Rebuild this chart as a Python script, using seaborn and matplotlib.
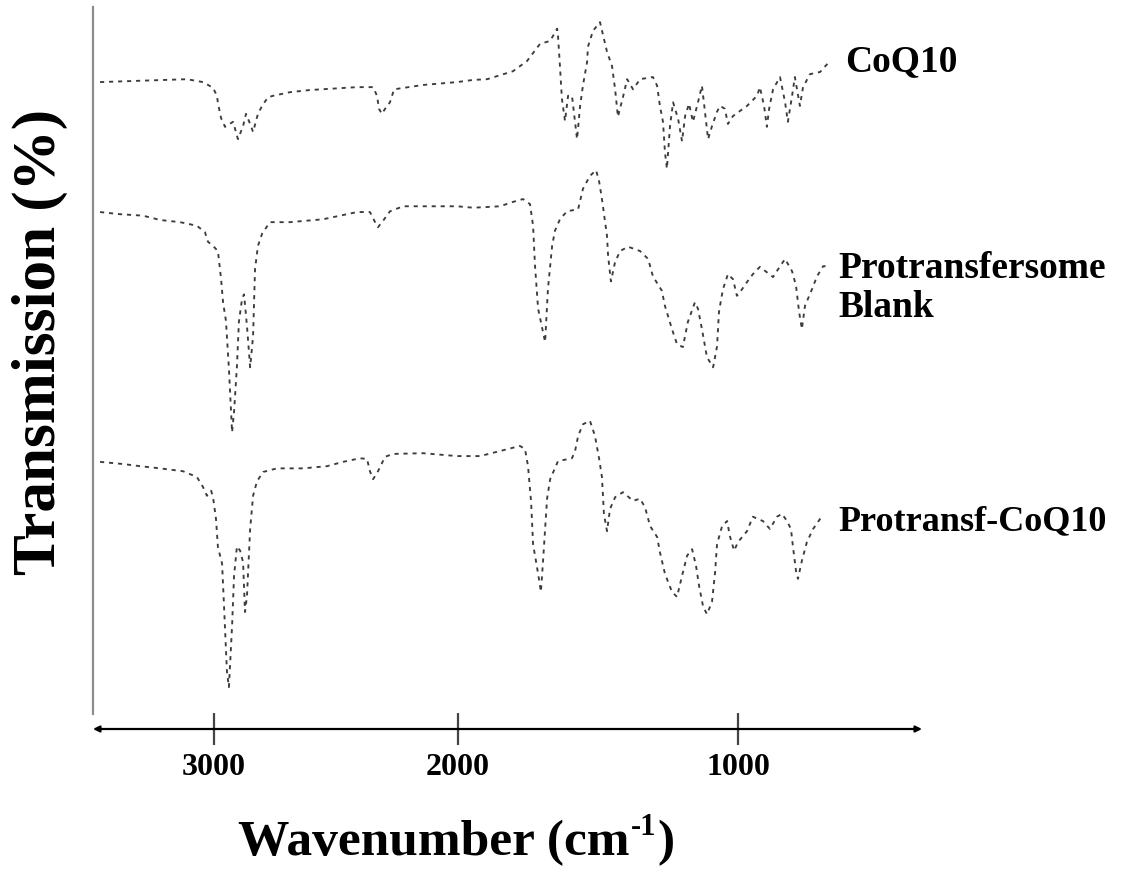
import numpy as np
import pandas as pd
import matplotlib
matplotlib.use("Agg")
import matplotlib.pyplot as plt
import seaborn as sns

# ---------------- data (wavenumber cm-1, transmission a.u., stacked) ----------------
coq10_wn = [3467, 3111, 3045, 3004, 2988, 2984, 2971, 2955, 2922, 2902, 2881, 2869, 2852, 2840,
            2820, 2803, 2779, 2758, 2689, 2607, 2414, 2348, 2332, 2324, 2312, 2299, 2279, 2262,
            2144, 2004, 1946, 1896, 1804, 1754, 1707, 1671, 1646, 1643, 1636, 1629, 1618, 1607,
            1593, 1575, 1564, 1554, 1539, 1536, 1518, 1493, 1479, 1468, 1450, 1439, 1429, 1411,
            1396, 1375, 1350, 1304, 1289, 1279, 1268, 1261, 1254, 1243, 1232, 1214, 1200, 1189,
            1175, 1161, 1143, 1129, 1122, 1107, 1093, 1075, 1064, 1047, 1036, 1018, 968, 932,
            922, 907, 897, 889, 875, 850, 832, 822, 807, 797, 779, 768, 743, 707, 672]
coq10_t = [89.6, 90.0, 89.6, 88.8, 87.7, 86.7, 84.6, 83.4, 84.1, 81.7, 83.5, 85.2, 83.8, 82.7,
           85.2, 86.3, 87.5, 87.7, 88.2, 88.5, 88.9, 88.9, 87.7, 85.9, 85.2, 85.9, 86.8, 88.6,
           89.2, 89.6, 89.9, 90.0, 91.1, 92.5, 94.9, 95.3, 97.0, 96.0, 91.8, 87.3, 84.2, 87.7,
           87.7, 81.7, 86.3, 89.1, 92.4, 94.5, 96.7, 97.9, 95.6, 93.8, 91.8, 88.6, 84.8, 87.5,
           90.0, 88.6, 90.0, 90.3, 89.1, 86.3, 84.1, 79.9, 77.6, 83.5, 86.8, 84.5, 81.4, 84.9,
           86.6, 84.1, 86.8, 89.1, 86.8, 81.7, 83.5, 85.5, 86.3, 85.9, 83.8, 84.9, 86.3, 87.7,
           88.9, 86.3, 83.4, 85.9, 88.6, 90.3, 86.8, 84.1, 87.7, 90.3, 86.3, 88.9, 90.7, 91.0, 92.5]

blank_wn = [3467, 3385, 3291, 3221, 3139, 3070, 3037, 3025, 3004, 2984, 2971, 2963, 2951, 2939,
            2926, 2918, 2906, 2898, 2885, 2877, 2865, 2852, 2840, 2832, 2820, 2803, 2771, 2689,
            2553, 2414, 2361, 2340, 2328, 2307, 2279, 2225, 2004, 1946, 1896, 1850, 1804, 1768,
            1743, 1732, 1725, 1714, 1689, 1679, 1664, 1654, 1636, 1611, 1571, 1554, 1529, 1507,
            1496, 1486, 1468, 1464, 1454, 1439, 1421, 1393, 1350, 1321, 1304, 1272, 1261, 1236,
            1218, 1197, 1179, 1154, 1143, 1129, 1111, 1089, 1075, 1068, 1054, 1036, 1018, 1004,
            993, 968, 947, 922, 875, 850, 832, 807, 793, 782, 772, 761, 736, 718, 696, 679]
blank_t = [71.6, 71.3, 71.1, 70.5, 70.2, 69.7, 68.8, 67.5, 66.9, 66.2, 62.3, 59.1, 56.5, 49.9,
           41.1, 43.9, 50.3, 56.4, 59.6, 60.2, 55.8, 50.1, 54.4, 63.7, 66.9, 68.6, 70.2, 70.2,
           70.6, 71.6, 71.6, 70.2, 69.5, 70.4, 71.7, 72.4, 72.4, 72.2, 72.3, 72.4, 73.0, 73.4,
           72.7, 69.7, 64.1, 58.2, 53.6, 60.9, 66.9, 69.0, 70.6, 71.7, 72.0, 74.8, 76.6, 77.4,
           75.8, 73.4, 68.3, 65.5, 62.0, 64.7, 66.2, 66.8, 66.2, 65.1, 62.7, 60.7, 58.6, 55.4,
           53.3, 52.9, 56.4, 59.1, 58.2, 55.4, 51.5, 50.1, 53.0, 57.8, 60.9, 63.0, 62.3, 60.0,
           60.5, 61.9, 63.0, 64.0, 62.6, 64.1, 65.1, 63.4, 61.4, 57.8, 55.4, 58.6, 60.9, 62.7,
           64.1, 64.1]

ptc_wn = [3467, 3373, 3303, 3221, 3127, 3070, 3045, 3029, 3012, 3004, 2992, 2984, 2967, 2959,
          2947, 2939, 2926, 2918, 2906, 2893, 2881, 2873, 2865, 2852, 2840, 2824, 2799, 2742,
          2635, 2537, 2471, 2402, 2373, 2361, 2348, 2328, 2299, 2266, 2144, 2004, 1921, 1850,
          1779, 1761, 1750, 1739, 1732, 1714, 1704, 1696, 1682, 1671, 1643, 1593, 1582, 1571,
          1554, 1529, 1511, 1496, 1486, 1479, 1468, 1457, 1439, 1411, 1375, 1350, 1332, 1314,
          1289, 1279, 1261, 1236, 1218, 1200, 1182, 1164, 1150, 1139, 1125, 1111, 1093, 1082,
          1075, 1057, 1039, 1029, 1014, 1000, 968, 947, 911, 886, 861, 843, 825, 811, 804, 793,
          786, 772, 754, 732, 707, 696]
ptc_t = [37.0, 36.7, 36.4, 36.1, 35.7, 34.9, 33.5, 32.3, 33.0, 32.1, 29.1, 25.2, 22.9, 17.0,
         7.9, 5.8, 14.3, 21.2, 25.3, 24.7, 23.1, 16.2, 18.4, 27.7, 32.3, 34.3, 35.6, 36.1,
         36.1, 36.4, 37.0, 37.5, 37.4, 35.7, 34.6, 35.7, 37.7, 38.1, 38.2, 37.8, 37.8, 38.5,
         39.2, 38.8, 36.4, 31.4, 25.6, 21.5, 19.0, 23.5, 31.9, 34.6, 37.1, 37.5, 38.5, 40.6,
         42.2, 42.7, 40.6, 37.4, 34.9, 29.8, 27.4, 30.5, 32.1, 32.8, 31.6, 31.9, 30.7, 28.1,
         26.6, 24.5, 21.5, 19.0, 18.3, 21.2, 24.0, 24.9, 22.6, 19.8, 17.0, 15.9, 17.6, 21.7,
         25.6, 28.1, 28.8, 26.7, 24.7, 25.9, 27.4, 29.4, 28.8, 27.7, 29.4, 29.8, 28.8, 27.7,
         25.3, 21.9, 20.8, 23.3, 25.9, 27.7, 29.1, 29.5]

series_names = ["CoQ10", "Protransfersome\nBlank", "Protransf-CoQ10"]
xticks = [3000, 2000, 1000]
xtick_labels = ["3000", "2000", "1000"]

# ---------------- style ----------------
sns.set_theme(style="white")
plt.rcParams["font.family"] = ["Liberation Serif", "DejaVu Serif"]
plt.rcParams["font.weight"] = "bold"
plt.rcParams["text.color"] = "black"
plt.rcParams["xtick.color"] = "black"
plt.rcParams["xtick.labelcolor"] = "black"

W, H = 1146, 878
fig = plt.figure(figsize=(W / 100, H / 100), dpi=100)
ax = fig.add_axes([93 / W, 148 / H, 829 / W, 722 / H])

# piecewise x scale (spectrum is expanded below 2000 cm-1)
R = 0.244 / 0.280


def fwd(x):
    x = np.asarray(x, dtype=float)
    return np.where(x < 2000, x, 2000 + (x - 2000) * R)


def inv(y):
    y = np.asarray(y, dtype=float)
    return np.where(y < 2000, y, 2000 + (y - 2000) / R)


ax.set_xscale("function", functions=(fwd, inv))

line_kw = dict(color="#3c3c3c", linewidth=1.35, sort=False, estimator=None)
for wn, t in [(coq10_wn, coq10_t), (blank_wn, blank_t), (ptc_wn, ptc_t)]:
    df = pd.DataFrame({"wavenumber": wn, "T": t})
    sns.lineplot(data=df, x="wavenumber", y="T", ax=ax, **line_kw)
for ln in ax.lines:
    ln.set_linestyle((0, (2.2, 2.6)))

ax.set_xlim(3496, 343)
ax.set_ylim(0, 100)

# axes decoration
for s in ["top", "right", "bottom"]:
    ax.spines[s].set_visible(False)
ax.spines["left"].set_color("#8c8c8c")
ax.spines["left"].set_linewidth(1.6)
ax.spines["left"].set_bounds(2.1, 100)

ax.set_yticks([])
ax.set_xticks(xticks)
ax.set_xticklabels(xtick_labels, fontsize=23, fontweight="bold", color="black")
ax.tick_params(axis="x", direction="inout", length=23, width=1.6, color="#444444",
               pad=5, bottom=True)
ax.set_xlabel("")
ax.set_ylabel("")

# double-headed x axis line
ax.annotate("", xy=(0, 0), xytext=(1, 0), xycoords="axes fraction",
            textcoords="axes fraction",
            arrowprops=dict(arrowstyle="<|-|>", color="black", lw=1.6,
                            mutation_scale=9, shrinkA=0, shrinkB=0))

# series labels
fig.text(845 / W, 1 - 62 / H, series_names[0], fontsize=27, fontweight="bold",
         ha="left", va="center", color="black")
fig.text(838 / W, 1 - 288 / H, series_names[1], fontsize=27, fontweight="bold",
         ha="left", va="center", linespacing=1.15, color="black")
fig.text(838 / W, 1 - 522 / H, series_names[2], fontsize=26, fontweight="bold",
         ha="left", va="center", color="black")

# x axis title: "Wavenumber (cm" + superscript "-1" + ")"
renderer = fig.canvas.get_renderer()
base_px = 855
t1 = fig.text(0, 1 - base_px / H, "Wavenumber (cm", fontsize=37, fontweight="bold",
              ha="left", va="baseline", color="black")
t2 = fig.text(0, 1 - (base_px - 20) / H, "-1", fontsize=22, fontweight="bold",
              ha="left", va="baseline", color="black")
t3 = fig.text(0, 1 - base_px / H, ")", fontsize=37, fontweight="bold",
              ha="left", va="baseline", color="black")
w1 = t1.get_window_extent(renderer).width
w2 = t2.get_window_extent(renderer).width
w3 = t3.get_window_extent(renderer).width
x0 = 455 - (w1 + w2 + w3) / 2
t1.set_x(x0 / W)
t2.set_x((x0 + w1 + 1) / W)
t3.set_x((x0 + w1 + w2 + 2) / W)

# y axis title
fig.text(40 / W, 1 - 342 / H, "Transmission (%)", fontsize=44, fontweight="bold",
         ha="center", va="center", rotation=90, color="black")

fig.savefig("out.png", dpi=100)
